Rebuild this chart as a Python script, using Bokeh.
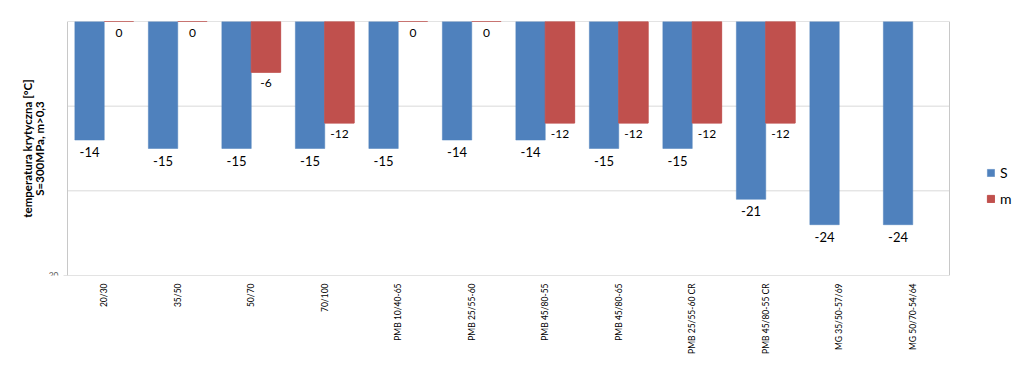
import math
from bokeh.plotting import figure
from bokeh.models import (ColumnDataSource, Range1d, FixedTicker, Legend, LegendItem)
from bokeh.transform import dodge
from bokeh.core.properties import value
from bokeh.embed import file_html
from bokeh.resources import INLINE

categories = ["20/30", "35/50", "50/70", "70/100", "PMB 10/40-65", "PMB 25/55-60",
              "PMB 45/80-55", "PMB 45/80-65", "PMB 25/55-60 CR", "PMB 45/80-55 CR",
              "MG 35/50-57/69", "MG 50/70-54/64"]
S_values = [-14, -15, -15, -15, -15, -14, -14, -15, -15, -21, -24, -24]
m_values = [0, 0, -6, -12, 0, 0, -12, -12, -12, -12, None, None]
y_min, y_max = -30, 0
y_grid = [-10, -20]
y_title = ["temperatura krytyczna [°C]", "S=300MPa, m>0,3"]

BLUE = "#4F81BD"
RED = "#C0504D"
FONT = "Lato"

n = len(categories)
idx = list(range(n))
m_num = [float("nan") if v is None else v for v in m_values]
src = ColumnDataSource(dict(i=idx, S=S_values, m=m_num, zero=[0] * n))

mi = [i for i, v in zip(idx, m_values) if v is not None]
mvals = [v for v in m_values if v is not None]
src_mlab = ColumnDataSource(dict(i=mi, m=mvals, txt=[str(v) for v in mvals]))
src_slab = ColumnDataSource(dict(i=idx, S=S_values, txt=[str(v) for v in S_values]))

# layout: the frame spans the whole width; the chart box is drawn inside it
FIG_W = 1024
FIG_H = 360
BOX_LEFT_PX = 67
BOX_W = 882
BOX_TOP_PX = 21
BOX_BOTTOM_PX = 275
cat_w = BOX_W / n          # pixels per category
bx0 = -0.5
bx1 = n - 0.5
x_lo = bx0 - BOX_LEFT_PX / cat_w
x_hi = bx0 + (FIG_W - BOX_LEFT_PX) / cat_w

def px_left_of_box(px):
    return bx0 - px / cat_w

p = figure(x_range=Range1d(x_lo, x_hi), y_range=Range1d(y_min, y_max),
           width=FIG_W, height=FIG_H, output_backend="svg", toolbar_location=None,
           min_border_left=0, min_border_right=0, min_border_top=BOX_TOP_PX,
           min_border_bottom=FIG_H - BOX_BOTTOM_PX)

box_col = "#C8C8C8"
# horizontal gridlines
p.segment(x0=[bx0] * len(y_grid), x1=[bx1] * len(y_grid), y0=y_grid, y1=y_grid,
          line_color="#D9D9D9", line_width=1)
# chart box (+ small tick at the lowest value)
p.segment(x0=[bx0, px_left_of_box(4), bx1, bx0], x1=[bx1, bx1, bx1, bx0],
          y0=[y_max, y_min, y_min, y_min], y1=[y_max, y_min, y_max, y_max],
          line_color=box_col, line_width=1)

rS = p.vbar(x=dodge("i", -0.2), top="zero", bottom="S", width=0.4,
            source=src, fill_color=BLUE, line_color=BLUE, line_width=0.5)
rm = p.vbar(x=dodge("i", 0.2), top="zero", bottom="m", width=0.4,
            source=src, fill_color=RED, line_color=RED, line_width=1)

p.text(x=dodge("i", -0.2), y="S", text="txt", source=src_slab,
       text_align="center", text_baseline="middle", y_offset=12,
       text_font=value(FONT), text_font_size="13px", text_color="#000000")
p.text(x=dodge("i", 0.2), y="m", text="txt", source=src_mlab,
       text_align="center", text_baseline="middle", y_offset=11,
       text_font=value(FONT), text_font_size="12px", text_color="#000000")

# y tick label (only the lowest one is shown) and y title
p.text(x=[px_left_of_box(9)], y=[y_min], text=[str(y_min)],
       text_align="right", text_baseline="middle",
       text_font=value(FONT), text_font_size="8.5px", text_color="#595959")
y_mid = (y_min + y_max) / 2
for line, off in zip(y_title, [40, 28]):
    p.text(x=[px_left_of_box(off)], y=[y_mid], text=[line], angle=math.pi / 2,
           text_align="center", text_baseline="middle",
           text_font=value(FONT), text_font_style="bold", text_font_size="11.5px",
           text_color="#000000")

p.yaxis.visible = False

# x axis: category names at the category positions
p.xaxis.ticker = FixedTicker(ticks=idx)
p.xaxis.major_label_overrides = {i: c for i, c in zip(idx, categories)}
p.xaxis.major_label_orientation = math.pi / 2
p.xaxis.major_label_text_font = FONT
p.xaxis.major_label_text_font_size = "8.5px"
p.xaxis.major_label_text_color = "#000000"
p.xaxis.major_tick_line_color = None
p.xaxis.minor_tick_line_color = None
p.xaxis.major_tick_out = 0
p.xaxis.major_tick_in = 0
p.xaxis.major_label_standoff = 8
p.xaxis.axis_line_color = None

p.xgrid.grid_line_color = None
p.ygrid.grid_line_color = None
p.outline_line_color = None
p.background_fill_color = "white"
p.border_fill_color = "white"

legend = Legend(items=[LegendItem(label="S", renderers=[rS]),
                       LegendItem(label="m", renderers=[rm])],
                location=(986, 68), padding=0, margin=0, spacing=8,
                glyph_width=9, glyph_height=9, label_height=18, label_standoff=5,
                label_text_font=FONT, label_text_font_size="14px",
                label_text_color="#000000",
                border_line_color=None, background_fill_alpha=0)
p.add_layout(legend)

open("out.html", "w").write(file_html(p, INLINE))
